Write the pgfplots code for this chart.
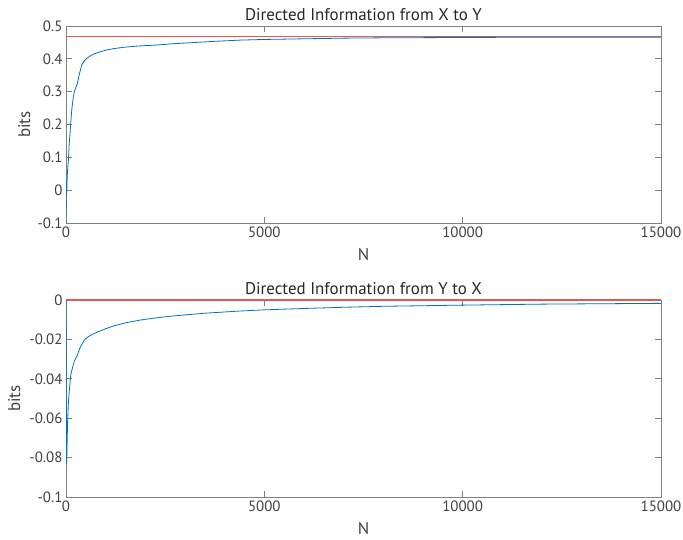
\documentclass[border=0pt]{standalone}
\usepackage{fontspec}
\setmainfont{PT Sans}
\usepackage{pgfplots}
\pgfplotsset{compat=1.18}

\definecolor{mblue}{rgb}{0,0.447,0.741}
\definecolor{mred}{rgb}{0.88,0.35,0.35}
\definecolor{axgray}{rgb}{0.5,0.5,0.5}
\definecolor{txtgray}{rgb}{0.25,0.25,0.25}

\pgfplotsset{
  mlab/.style={
    scale only axis,
    width=595bp, height=197bp,
    anchor=south west,
    xmin=0, xmax=15000,
    scaled x ticks=false,
    xtick={0,5000,10000,15000},
    xticklabels={0,5000,10000,15000},
    tick align=inside,
    major tick length=6bp,
    axis line style={axgray, line width=0.9bp},
    every tick/.style={axgray, line width=0.7bp},
    tick label style={font=\fontsize{15}{17}\selectfont, text=txtgray},
    xlabel={N}, ylabel={bits},
    label style={font=\fontsize{17}{19}\selectfont, text=txtgray},
    xlabel style={at={(axis description cs:0.5,-0.16)}, anchor=center},
    title style={at={(axis description cs:0.5,1.03)}, anchor=center,
      font=\fontsize{17}{19}\selectfont, text=black!85},
    clip=true,
  }
}

\begin{document}
\begin{tikzpicture}
\useasboundingbox (0bp,0bp) rectangle (683bp,540bp);

\begin{axis}[mlab, at={(66bp,317bp)},
  ymin=-0.1, ymax=0.5,
  ytick={-0.1,0,0.1,0.2,0.3,0.4,0.5},
  yticklabels={-0.1,0,0.1,0.2,0.3,0.4,0.5},
  ylabel style={at={(axis description cs:-0.07,0.5)}, anchor=center},
  title={Directed Information from X to Y}]
\addplot[mred, line width=0.8bp] coordinates {(0,0.467)(15000,0.467)};
\addplot[mblue, line width=0.8bp] coordinates {
(1,-0.081)(5,-0.02)(10,0.03)(15,-0.01)(20,0.0)(30,0.04)(45,0.07)(60,0.09)
(80,0.14)(100,0.17)(118,0.203)(150,0.25)(180,0.28)(210,0.30)(285,0.325)
(340,0.355)(395,0.381)(450,0.392)(520,0.401)(600,0.408)(690,0.414)
(850,0.421)(1025,0.427)(1200,0.431)(1445,0.435)(1800,0.439)(2285,0.442)
(2700,0.446)(3125,0.449)(3700,0.453)(4385,0.457)(5000,0.459)(6000,0.461)
(7000,0.463)(8000,0.464)(10000,0.465)(12000,0.466)(15000,0.466)};
\end{axis}

\begin{axis}[mlab, at={(66bp,43bp)},
  ymin=-0.1, ymax=0,
  ytick={-0.1,-0.08,-0.06,-0.04,-0.02,0},
  yticklabels={-0.1,-0.08,-0.06,-0.04,-0.02,0},
  ylabel style={at={(axis description cs:-0.087,0.5)}, anchor=center},
  title={Directed Information from Y to X}]
\addplot[mred, line width=1.2bp] coordinates {(0,0)(15000,0)};
\addplot[mblue, line width=0.8bp] coordinates {
(1,0)(5,-0.03)(10,-0.06)(17,-0.083)(25,-0.075)(42,-0.061)(60,-0.052)
(84,-0.0458)(120,-0.038)(160,-0.0347)(210,-0.031)(269,-0.0288)(360,-0.024)
(462,-0.0203)(563,-0.0186)(700,-0.0171)(815,-0.0161)(1000,-0.0146)
(1193,-0.0132)(1500,-0.0116)(1865,-0.0102)(2300,-0.009)(2705,-0.0081)
(3500,-0.0067)(4386,-0.0056)(5000,-0.005)(6000,-0.0043)(7000,-0.0037)
(8000,-0.0032)(10000,-0.0026)(12000,-0.0021)(15000,-0.0017)};
\end{axis}
\end{tikzpicture}
\end{document}
